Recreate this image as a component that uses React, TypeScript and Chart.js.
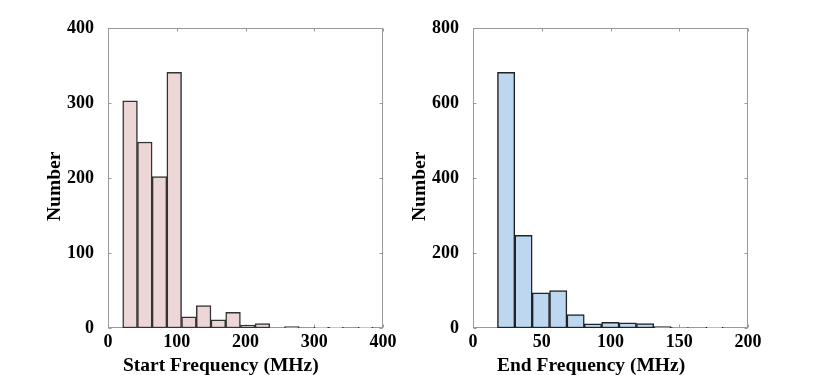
import React, { useEffect, useRef } from 'react';
import { Chart, registerables } from 'chart.js';

Chart.register(...registerables);

// Start-frequency histogram (bin centres in MHz, counts)
const startCenters = [32.1, 53.5, 74.9, 96.3, 117.7, 139.1, 160.5, 181.9, 203.3, 224.7, 246.1, 267.5, 288.9, 310.3, 331.7, 353.1, 374.5];
const startCounts = [303, 248, 202, 341, 15, 30, 11, 21, 4, 6, 0, 2, 0, 1, 1, 0, 1];
const startXTicks = [0, 100, 200, 300, 400];
const startYTicks = [0, 100, 200, 300, 400];

// End-frequency histogram
const endCenters = [24.1, 36.73, 49.36, 61.99, 74.62, 87.25, 99.88, 112.51, 125.14, 137.77, 150.4, 163.03, 175.66, 188.29];
const endCounts = [682, 247, 94, 100, 36, 11, 15, 14, 12, 4, 1, 0, 2, 0];
const endXTicks = [0, 50, 100, 150, 200];
const endYTicks = [0, 200, 400, 600, 800];

const FONT = '"Liberation Serif", "Times New Roman", serif';
const AXIS_GRAY = '#9a9a9a';

const boxPlugin = {
  id: 'matlabBox',
  beforeDatasetsDraw(chart: any) {
    const { ctx, chartArea } = chart;
    const L = Math.round(chartArea.left) + 0.5;
    const R = Math.round(chartArea.right) - 0.5;
    const T = Math.round(chartArea.top) + 0.5;
    const B = Math.round(chartArea.bottom) - 0.5;
    ctx.save();
    ctx.strokeStyle = AXIS_GRAY;
    ctx.lineWidth = 1;
    ctx.strokeRect(L, T, R - L, B - T);
    const tl = 3;
    ctx.beginPath();
    const xs = chart.scales.x;
    xs.ticks.forEach((t: any) => {
      const px = Math.round(xs.getPixelForValue(t.value)) + 0.5;
      ctx.moveTo(px, B);
      ctx.lineTo(px, B - tl);
      ctx.moveTo(px, T);
      ctx.lineTo(px, T + tl);
    });
    const ys = chart.scales.y;
    ys.ticks.forEach((t: any) => {
      const py = Math.round(ys.getPixelForValue(t.value)) + 0.5;
      ctx.moveTo(L, py);
      ctx.lineTo(L + tl, py);
      ctx.moveTo(R, py);
      ctx.lineTo(R - tl, py);
    });
    ctx.stroke();
    ctx.restore();
  },
  afterDraw(chart: any) {
    const o = chart.options.plugins.matlabBox;
    const { ctx, chartArea } = chart;
    ctx.save();
    ctx.fillStyle = '#000';
    ctx.font = 'bold 19.5px ' + FONT;
    ctx.textAlign = 'left';
    ctx.textBaseline = 'alphabetic';
    ctx.fillText(o.xTitle, chartArea.left + o.xTitleOffset, o.xTitleBaseline);
    ctx.translate(o.yTitleBaseline, o.yTitleStart);
    ctx.rotate(-Math.PI / 2);
    ctx.fillText(o.yTitle, 0, 0);
    ctx.restore();
  },
};

function makeConfig(
  centers: number[],
  counts: number[],
  xTicks: number[],
  yTicks: number[],
  fill: string,
  edge: string,
  xTitle: string,
  xTitleOffset: number
): any {
  return {
    type: 'bar',
    data: {
      datasets: [
        {
          data: centers.map((c, i) => ({ x: c, y: counts[i] })),
          backgroundColor: fill,
          borderColor: edge,
          borderWidth: 1.5,
          borderSkipped: false,
          barPercentage: 1,
          categoryPercentage: 1,
        },
      ],
    },
    options: {
      responsive: false,
      animation: false,
      devicePixelRatio: 1,
      layout: { padding: { left: 0, right: 32, top: 28, bottom: 0 } },
      plugins: {
        legend: { display: false },
        tooltip: { enabled: false },
        matlabBox: {
          xTitle,
          xTitleOffset,
          xTitleBaseline: 371,
          yTitle: 'Number',
          yTitleBaseline: 60,
          yTitleStart: 221,
        },
      },
      scales: {
        x: {
          type: 'linear',
          offset: false,
          min: xTicks[0],
          max: xTicks[xTicks.length - 1],
          grid: { display: false, drawTicks: false },
          border: { display: false },
          afterBuildTicks: (s: any) => {
            s.ticks = xTicks.map((v) => ({ value: v }));
          },
          afterFit: (s: any) => {
            s.height = 47;
          },
          ticks: {
            padding: 4,
            maxRotation: 0,
            autoSkip: false,
            color: '#000',
            font: { family: FONT, size: 18, weight: 'bold' },
          },
          title: { display: false },
        },
        y: {
          type: 'linear',
          min: yTicks[0],
          max: yTicks[yTicks.length - 1],
          grid: { display: false, drawTicks: false },
          border: { display: false },
          afterBuildTicks: (s: any) => {
            s.ticks = yTicks.map((v) => ({ value: v }));
          },
          afterFit: (s: any) => {
            s.width = 108;
          },
          ticks: {
            padding: 14,
            autoSkip: false,
            color: '#000',
            font: { family: FONT, size: 18, weight: 'bold' },
          },
          title: { display: false },
        },
      },
    },
    plugins: [boxPlugin],
  };
}

function Hist(props: { cfg: any; left: number }) {
  const ref = useRef<HTMLCanvasElement | null>(null);
  useEffect(() => {
    if (!ref.current) return;
    const chart = new Chart(ref.current, props.cfg);
    return () => chart.destroy();
  }, []);
  return (
    <canvas
      ref={ref}
      width={415}
      height={375}
      style={{ position: 'absolute', left: props.left, top: 0, width: 415, height: 375 }}
    />
  );
}

export default function App() {
  const cfgStart = makeConfig(startCenters, startCounts, startXTicks, startYTicks, '#ecd6d6', '#333333', 'Start Frequency (MHz)', 15);
  const cfgEnd = makeConfig(endCenters, endCounts, endXTicks, endYTicks, '#bdd7f1', '#222222', 'End Frequency (MHz)', 24);
  return (
    <div style={{ position: 'fixed', left: 0, top: 0, width: 830, height: 375, background: '#fff' }}>
      <Hist cfg={cfgStart} left={0} />
      <Hist cfg={cfgEnd} left={365} />
    </div>
  );
}
